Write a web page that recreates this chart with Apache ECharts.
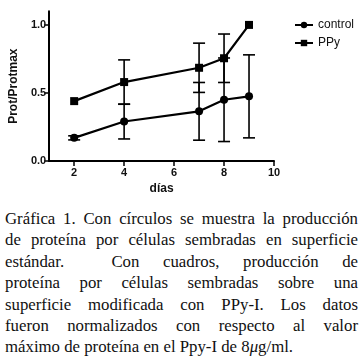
<!DOCTYPE html>
<html>
<head>
<meta charset="utf-8">
<script src="https://cdn.jsdelivr.net/npm/echarts@6/dist/echarts.min.js"></script>
<style>
html,body{margin:0;padding:0;background:#fff;}
#wrap{position:relative;width:364px;height:357px;overflow:hidden;}
#chart{position:absolute;left:0;top:0;width:364px;height:200px;}
#cap{position:absolute;left:5px;top:208px;width:353px;font-family:"Liberation Serif","DejaVu Serif",serif;font-size:16.8px;line-height:21.4px;color:#111;}
#cap div{text-align:justify;text-align-last:justify;white-space:nowrap;}
#cap div.last{text-align-last:left;}
</style>
</head>
<body>
<div id="wrap">
<div id="chart"></div>
<div id="cap"></div>
</div>
<script>
var days = [2, 4, 7, 8, 9];
var control = [0.17, 0.29, 0.365, 0.45, 0.475];
var controlSD = [0.015, 0.128, 0.212, 0.307, 0.305];
var ppy = [0.44, 0.58, 0.685, 0.755, 1.0];
var ppySD = [0, 0.163, 0.181, 0.178, 0];
var xTicks = [2, 4, 6, 8, 10];
var yTicks = [0, 0.5, 1.0];
var seriesNames = ['control', 'PPy'];
var xName = 'días';
var yName = 'Prot/Protmax';
var captionLines = [
  'Gráfica 1. Con círculos se muestra la producción',
  'de proteína por células sembradas en superficie',
  'estándar.&nbsp; Con cuadros, producción de',
  'proteína por células sembradas sobre una',
  'superficie modificada con PPy-I. Los datos',
  'fueron normalizados con respecto al valor',
  'máximo de proteína en el Ppy-I de 8<i>μ</i>g/ml.'
];

var cap = document.getElementById('cap');
captionLines.forEach(function (t, i) {
  var d = document.createElement('div');
  d.innerHTML = t;
  if (i === captionLines.length - 1) d.className = 'last';
  cap.appendChild(d);
});

function pairs(ys, sds) {
  return days.map(function (d, i) { return [d, ys[i], sds[i]]; });
}

function errRender(params, api) {
  var x = api.value(0), y = api.value(1), sd = api.value(2);
  if (!sd) return null;
  var top = api.coord([x, y + sd]);
  var bot = api.coord([x, y - sd]);
  var hw = 6;
  var st = { stroke: '#000', lineWidth: 1.6 };
  return {
    type: 'group',
    children: [
      { type: 'line', shape: { x1: top[0], y1: top[1], x2: bot[0], y2: bot[1] }, style: st },
      { type: 'line', shape: { x1: top[0] - hw, y1: top[1], x2: top[0] + hw, y2: top[1] }, style: st },
      { type: 'line', shape: { x1: bot[0] - hw, y1: bot[1], x2: bot[0] + hw, y2: bot[1] }, style: st }
    ]
  };
}

var chart = echarts.init(document.getElementById('chart'), null, { renderer: 'canvas' });
var labelFont = { fontFamily: 'Liberation Sans, Arial, sans-serif', fontWeight: 'bold', fontSize: 11, color: '#111' };
chart.setOption({
  animation: false,
  grid: { left: 49, right: 90, top: 11.3, height: 150.4 },
  legend: {
    data: seriesNames,
    orient: 'vertical',
    left: 289,
    top: 14,
    itemWidth: 18,
    itemHeight: 8,
    itemGap: 6,
    textStyle: { fontFamily: 'Liberation Sans, Arial, sans-serif', fontSize: 12, color: '#111' }
  },
  xAxis: {
    type: 'value',
    min: 1, max: 10,
    name: xName,
    nameLocation: 'middle',
    nameGap: 22,
    nameTextStyle: { fontFamily: 'Liberation Sans, Arial, sans-serif', fontWeight: 'bold', fontSize: 12, color: '#111' },
    axisLine: { onZero: false, lineStyle: { color: '#000', width: 2 } },
    axisTick: { customValues: xTicks, length: 5, lineStyle: { color: '#000', width: 1.5 } },
    axisLabel: Object.assign({ customValues: xTicks, margin: 6 }, labelFont),
    splitLine: { show: false }
  },
  yAxis: {
    type: 'value',
    min: 0, max: 1.1,
    name: yName,
    nameLocation: 'middle',
    nameGap: 28,
    nameTextStyle: { fontFamily: 'Liberation Sans, Arial, sans-serif', fontWeight: 'bold', fontSize: 12, color: '#111' },
    axisLine: { show: true, lineStyle: { color: '#000', width: 2 } },
    axisTick: { customValues: yTicks, length: 5, lineStyle: { color: '#000', width: 1.5 } },
    axisLabel: Object.assign({ customValues: yTicks, margin: 3, formatter: function (v) { return v.toFixed(1); } }, labelFont),
    splitLine: { show: false }
  },
  series: [
    {
      type: 'custom', name: 'controlErr', renderItem: errRender,
      data: pairs(control, controlSD), encode: { x: 0, y: 1 }, z: 1, silent: true
    },
    {
      type: 'custom', name: 'ppyErr', renderItem: errRender,
      data: pairs(ppy, ppySD), encode: { x: 0, y: 1 }, z: 1, silent: true
    },
    {
      type: 'line', name: seriesNames[0],
      data: days.map(function (d, i) { return [d, control[i]]; }),
      symbol: 'circle', symbolSize: 8,
      lineStyle: { color: '#000', width: 2.2 },
      itemStyle: { color: '#000' },
      z: 3
    },
    {
      type: 'line', name: seriesNames[1],
      data: days.map(function (d, i) { return [d, ppy[i]]; }),
      symbol: 'rect', symbolSize: 8,
      lineStyle: { color: '#000', width: 2.2 },
      itemStyle: { color: '#000' },
      z: 3
    }
  ]
});
</script>
</body>
</html>
